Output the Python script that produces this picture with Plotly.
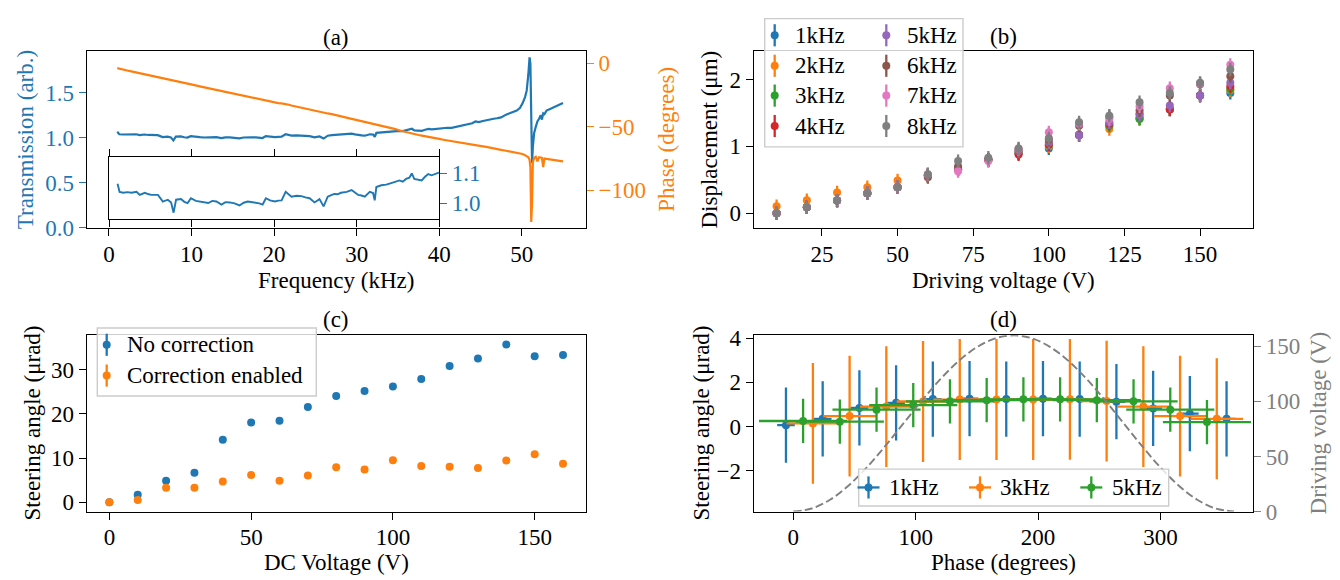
import plotly.graph_objects as go

W, H = 1340, 580
FONT = "Liberation Serif"
FS = 23

BLUE, ORANGE, GREEN, RED = "#1f77b4", "#ff7f0e", "#2ca02c", "#d62728"
PURPLE, BROWN, PINK, GREY = "#9467bd", "#8c564b", "#e377c2", "#7f7f7f"

# ---------------- (a) frequency response ----------------
freq_khz = [1.0, 1.25, 1.7, 2.2, 2.7, 3.3, 3.7, 4.3, 4.8, 5.1, 5.9, 6.5, 7.1, 7.5, 7.8, 8.1, 8.7, 9.1,
            9.5, 9.9, 10.5, 11.0, 11.5, 12.0, 12.5, 13.0, 13.6, 14.1, 14.6, 15.2, 15.8, 16.3, 16.8,
            17.3, 17.8, 18.2, 18.6, 19.0, 19.5, 20.1, 20.5, 20.9, 21.4, 21.8, 22.1, 22.7, 23.3, 23.8,
            24.3, 24.9, 25.5, 26.0, 26.5, 27.0, 27.3, 27.7, 28.1, 28.8, 29.4, 29.8, 30.2, 30.6, 31.0,
            31.6, 32.0, 32.2, 32.4, 33.0, 33.6, 34.2, 34.7, 35.2, 35.6, 36.0, 36.4, 36.7, 37.0, 37.5,
            37.9, 38.3, 38.7, 39.1, 39.5, 40.0, 40.5, 41.0, 41.5, 42.0, 42.5, 43.0, 43.5, 44.0, 44.4,
            44.8, 45.3, 45.7, 46.2, 46.6, 47.0, 47.5, 48.1, 48.6, 49.0, 49.4, 49.8, 50.1, 50.4, 50.6,
            50.8, 50.95, 51.05, 51.15, 51.25, 51.35, 51.5, 51.7, 51.9, 52.1, 52.3, 52.45, 52.6, 52.75,
            53.0, 53.5, 54.0, 54.5, 55.0]
transmission = [1.065, 1.038, 1.035, 1.037, 1.035, 1.038, 1.028, 1.035, 1.030, 1.028, 1.028, 1.006,
                1.012, 1.003, 0.969, 1.012, 1.014, 1.005, 1.001, 1.017, 1.008, 1.006, 1.002, 1.001,
                1.008, 1.006, 0.996, 1.004, 1.003, 1.000, 0.993, 1.002, 1.006, 1.004, 1.003, 1.000,
                0.996, 1.017, 1.010, 1.006, 1.009, 1.010, 1.038, 1.030, 1.022, 1.025, 1.024, 1.020,
                1.017, 1.003, 1.014, 0.990, 1.022, 1.028, 1.031, 1.030, 1.035, 1.038, 1.044, 1.036,
                1.028, 1.026, 1.022, 1.038, 1.034, 1.010, 1.054, 1.060, 1.062, 1.067, 1.072, 1.076,
                1.072, 1.081, 1.085, 1.099, 1.081, 1.078, 1.076, 1.088, 1.097, 1.093, 1.097, 1.102,
                1.105, 1.110, 1.108, 1.118, 1.130, 1.135, 1.150, 1.160, 1.180, 1.172, 1.185, 1.195,
                1.200, 1.210, 1.215, 1.225, 1.255, 1.270, 1.285, 1.300, 1.330, 1.380, 1.450, 1.520,
                1.700, 1.890, 1.820, 1.200, 0.720, 0.900, 1.050, 1.120, 1.180, 1.210, 1.250, 1.200,
                1.270, 1.260, 1.300, 1.320, 1.340, 1.360, 1.385]
phase_deg = [-3.8, -4.3, -4.9, -5.6, -6.3, -7.2, -7.8, -8.6, -9.3, -9.8, -10.9, -11.8, -12.6, -13.2,
             -13.6, -14.0, -14.9, -15.4, -16.0, -16.5, -17.4, -18.1, -18.8, -19.5, -20.2, -21.0,
             -21.8, -22.5, -23.2, -24.1, -24.9, -25.6, -26.3, -27.0, -27.8, -28.3, -28.9, -29.4,
             -30.1, -31.0, -31.4, -31.5, -31.8, -32.6, -33.2, -34.1, -35.0, -35.8, -36.6, -37.4,
             -38.1, -38.8, -39.5, -40.0, -40.4, -41.2, -42.0, -43.0, -43.8, -44.4, -45.0, -45.5,
             -46.1, -46.9, -47.4, -47.7, -48.0, -48.8, -49.6, -50.7, -51.8, -52.9, -53.6, -54.4,
             -55.0, -55.4, -55.8, -56.5, -57.0, -57.6, -58.2, -58.7, -59.2, -59.6, -60.2, -60.8,
             -61.3, -61.9, -62.5, -63.1, -63.6, -64.2, -64.6, -65.0, -65.4, -65.8, -66.3, -66.9,
             -67.6, -68.2, -68.9, -69.4, -69.8, -70.2, -70.8, -71.5, -72.4, -73.2, -74.0, -76.0,
             -82.0, -125.0, -110.0, -78.0, -74.5, -73.6, -77.2, -74.0, -74.3, -74.5, -81.8, -75.0,
             -75.3, -75.8, -76.3, -76.8, -77.3]
inset_max_khz = 40

# ---------------- (b) displacement vs driving voltage ----------------
drive_voltage = [10, 20, 30, 40, 50, 60, 70, 80, 90, 100, 110, 120, 130, 140, 150, 160]
disp_names = ["1kHz", "2kHz", "3kHz", "4kHz", "5kHz", "6kHz", "7kHz", "8kHz"]
disp_1k = [0.00, 0.09, 0.19, 0.30, 0.39, 0.57, 0.66, 0.80, 0.90, 0.97, 1.17, 1.31, 1.42, 1.55, 1.76, 1.80]
disp_2k = [0.105, 0.195, 0.31, 0.39, 0.49, 0.57, 0.66, 0.80, 0.90, 1.00, 1.17, 1.26, 1.42, 1.56, 1.76, 1.84]
disp_3k = [0.00, 0.09, 0.19, 0.30, 0.39, 0.56, 0.66, 0.80, 0.90, 1.02, 1.17, 1.31, 1.41, 1.56, 1.76, 1.86]
disp_4k = [0.00, 0.09, 0.19, 0.30, 0.39, 0.56, 0.66, 0.80, 0.88, 1.03, 1.17, 1.34, 1.49, 1.55, 1.76, 1.90]
disp_5k = [0.00, 0.09, 0.19, 0.30, 0.39, 0.57, 0.68, 0.80, 0.93, 1.06, 1.17, 1.36, 1.47, 1.61, 1.76, 1.95]
disp_6k = [0.00, 0.09, 0.19, 0.30, 0.39, 0.54, 0.70, 0.80, 0.95, 1.10, 1.31, 1.44, 1.54, 1.76, 1.93, 2.05]
disp_7k = [0.00, 0.09, 0.19, 0.30, 0.39, 0.58, 0.63, 0.78, 0.96, 1.21, 1.34, 1.41, 1.60, 1.87, 1.94, 2.22]
disp_8k = [0.00, 0.09, 0.19, 0.30, 0.39, 0.585, 0.78, 0.83, 0.97, 1.12, 1.36, 1.46, 1.66, 1.80, 1.95, 2.15]
disp_err = 0.10

# ---------------- (c) steering angle vs DC voltage ----------------
dc_voltage = [0, 10, 20, 30, 40, 50, 60, 70, 80, 90, 100, 110, 120, 130, 140, 150, 160]
steer_no_corr = [0.0, 1.67, 4.87, 6.68, 14.16, 18.08, 18.45, 21.57, 24.04, 25.2, 26.2, 27.9, 30.86,
                 32.53, 35.73, 33.04, 33.33]
steer_corr = [0.0, 0.5, 3.27, 3.27, 4.72, 6.17, 4.87, 6.03, 7.92, 7.41, 9.51, 8.21, 8.06, 7.77, 9.44,
              10.89, 8.71]
steer_err = 0.3
legend_c = ["No correction", "Correction enabled"]

# ---------------- (d) steering angle vs phase ----------------
phase_1k = [-6, 24, 54, 84, 114, 144, 174, 204, 234, 264, 294, 324, 354]
angle_1k = [0.06, 0.35, 0.84, 1.07, 1.24, 1.26, 1.24, 1.26, 1.24, 1.12, 0.82, 0.58, 0.35]
phase_3k = [16, 46, 76, 106, 136, 166, 196, 226, 256, 286, 316, 346]
angle_3k = [0.14, 0.47, 0.90, 1.13, 1.22, 1.22, 1.22, 1.23, 1.15, 0.90, 0.47, 0.35]
phase_5k = [8, 38, 68, 98, 128, 158, 188, 218, 248, 278, 308, 338]
angle_5k = [0.25, 0.22, 0.76, 0.97, 1.14, 1.19, 1.23, 1.23, 1.19, 1.14, 0.76, 0.20]
yerr_d = [1.70, 2.73, 1.00]
xerr_d = [7.2, 21.5, 36.0]
legend_d = ["1kHz", "3kHz", "5kHz"]
model_phase = [0, 15, 30, 45, 60, 75, 90, 105, 120, 135, 150, 165, 180, 195, 210, 225, 240, 255, 270,
               285, 300, 315, 330, 345, 360]
model_voltage = [0, 2.73, 10.72, 23.43, 40, 59.29, 80, 100.71, 120, 136.57, 149.28, 157.27, 160,
                 157.27, 149.28, 136.57, 120, 100.71, 80, 59.29, 40, 23.43, 10.72, 2.73, 0]


def px(X):
    return X / W


def py(Y):
    return 1 - Y / H


def axis(**kw):
    d = dict(showline=True, linecolor="black", linewidth=1.4, ticks="outside", ticklen=7,
             tickwidth=1.4, tickcolor="black", showgrid=False, zeroline=False,
             tickfont=dict(family=FONT, size=FS, color="black"))
    d.update(kw)
    return d


def xaxis(**kw):
    return axis(ticklabelstandoff=-2, **kw)


LW = 2.2
EW = 2.3
MS = 8

fig = go.Figure()

# (a)
fig.add_trace(go.Scatter(x=freq_khz, y=transmission, mode="lines", line=dict(color=BLUE, width=LW),
                         xaxis="x", yaxis="y"))
fig.add_trace(go.Scatter(x=freq_khz, y=phase_deg, mode="lines", line=dict(color=ORANGE, width=LW),
                         xaxis="x", yaxis="y2"))
f_in = [f for f in freq_khz if f <= inset_max_khz]
t_in = transmission[:len(f_in)]
fig.add_trace(go.Scatter(x=f_in, y=t_in, mode="lines", line=dict(color=BLUE, width=1.9),
                         xaxis="x5", yaxis="y7"))

# (b)
disp_series = [disp_1k, disp_2k, disp_3k, disp_4k, disp_5k, disp_6k, disp_7k, disp_8k]
disp_colors = [BLUE, ORANGE, GREEN, RED, PURPLE, BROWN, PINK, GREY]
for name, vals, col in zip(disp_names, disp_series, disp_colors):
    fig.add_trace(go.Scatter(x=drive_voltage, y=vals, mode="markers", name=name,
                             marker=dict(color=col, size=MS),
                             error_y=dict(type="constant", value=disp_err, thickness=EW, width=0, color=col),
                             xaxis="x2", yaxis="y3"))

# (c)
for name, vals, col in zip(legend_c, [steer_no_corr, steer_corr], [BLUE, ORANGE]):
    fig.add_trace(go.Scatter(x=dc_voltage, y=vals, mode="markers", name=name,
                             marker=dict(color=col, size=MS),
                             error_y=dict(type="constant", value=steer_err, thickness=EW, width=0, color=col),
                             xaxis="x3", yaxis="y4"))

# (d)
for name, xs, ys, col, ye, xe in zip(legend_d, [phase_1k, phase_3k, phase_5k],
                                     [angle_1k, angle_3k, angle_5k], [BLUE, ORANGE, GREEN], yerr_d, xerr_d):
    fig.add_trace(go.Scatter(x=xs, y=ys, mode="markers", name=name, marker=dict(color=col, size=MS),
                             error_y=dict(type="constant", value=ye, thickness=EW, width=0, color=col),
                             error_x=dict(type="constant", value=xe, thickness=EW, width=0, color=col),
                             xaxis="x4", yaxis="y5"))
fig.add_trace(go.Scatter(x=model_phase, y=model_voltage, mode="lines",
                         line=dict(color="#808080", width=1.9, dash="8px,3.5px", shape="spline"),
                         xaxis="x4", yaxis="y6"))

XA = [px(78.7), px(577.7)]
XB = [px(745.9), px(1245.0)]
YTOP = [py(219.3), py(35.8)]
YBOT = [py(514.0), py(330.9)]

fig.update_layout(
    width=W, height=H, margin=dict(l=0, r=0, t=0, b=0), showlegend=False,
    paper_bgcolor="white", plot_bgcolor="white",
    font=dict(family=FONT, size=FS, color="black"),
    xaxis=xaxis(domain=XA, anchor="y", range=[-2.7, 57.75], tickvals=[0, 10, 20, 30, 40, 50], mirror=True),
    yaxis=axis(domain=YTOP, anchor="x", range=[0, 1.955], tickvals=[0, 0.5, 1.0, 1.5], tickformat=".1f",
               tickcolor=BLUE, tickfont=dict(family=FONT, size=FS, color=BLUE)),
    yaxis2=axis(overlaying="y", anchor="x", side="right", range=[-129.8, 9.4], tickvals=[-100, -50, 0],
                tickcolor=ORANGE, tickfont=dict(family=FONT, size=FS, color=ORANGE)),
    xaxis5=axis(domain=[px(101.3), px(431.0)], anchor="y7", range=[0, 40], tickvals=[0, 10, 20, 30, 40],
                showticklabels=False, mirror="ticks"),
    yaxis7=axis(domain=[py(210.0), py(145.7)], anchor="x5", side="right", range=[0.948, 1.153],
                tickvals=[1.0, 1.1], tickformat=".1f", mirror=True, tickcolor=BLUE,
                tickfont=dict(family=FONT, size=FS, color=BLUE)),
    xaxis2=xaxis(domain=XB, anchor="y3", range=[2.5, 167.5], tickvals=[25, 50, 75, 100, 125, 150], mirror=True),
    yaxis3=axis(domain=YTOP, anchor="x2", range=[-0.22, 2.42], tickvals=[0, 1, 2], mirror=True),
    xaxis3=xaxis(domain=XA, anchor="y4", range=[-8, 168], tickvals=[0, 50, 100, 150], mirror=True),
    yaxis4=axis(domain=YBOT, anchor="x3", range=[-2.1, 37.8], tickvals=[0, 10, 20, 30], mirror=True),
    xaxis4=xaxis(domain=XB, anchor="y5", range=[-32.2, 375.6], tickvals=[0, 100, 200, 300], mirror=True),
    yaxis5=axis(domain=YBOT, anchor="x4", range=[-3.84, 4.12], tickvals=[-2, 0, 2, 4]),
    yaxis6=axis(overlaying="y5", anchor="x4", side="right", range=[0, 160], tickvals=[0, 50, 100, 150],
                tickcolor="#808080", tickfont=dict(family=FONT, size=FS, color="#808080")),
)

ann = []


def text(X, Y, s, color="black", angle=0, xanchor="center"):
    ann.append(dict(x=px(X), y=py(Y), xref="paper", yref="paper", text=s, showarrow=False,
                    xanchor=xanchor, yanchor="middle", textangle=angle,
                    font=dict(family=FONT, size=FS, color=color)))


# titles and axis labels
text(328.2, 21, "(a)")
text(328.2, 273.5, "Frequency (kHz)")
text(18.3, 127.7, "Transmission (arb.)", BLUE, -90)
text(659, 127.7, "Phase (degrees)", ORANGE, -90)
text(995.5, 20, "(b)")
text(995.5, 273.5, "Driving voltage (V)")
text(701.7, 127.7, "Displacement (μm)", angle=-90)
text(328.2, 314, "(c)")
text(328.2, 566.5, "DC Voltage (V)")
text(24, 422.5, "Steering angle (μrad)", angle=-90)
text(995.5, 314, "(d)")
text(995.5, 566.5, "Phase (degrees)")
text(693, 422.5, "Steering angle (μrad)", angle=-90)
text(1310, 422.5, "Driving voltage (V)", "#808080", -90)

shapes = []


def legend_box(x0, y0, x1, y1):
    shapes.append(dict(type="rect", xref="paper", yref="paper", x0=px(x0), x1=px(x1), y0=py(y1), y1=py(y0),
                       fillcolor="rgba(255,255,255,0.8)", line=dict(color="#cccccc", width=1.4), layer="above"))


def glyph(X, Y, color, cross=False):
    shapes.append(dict(type="line", xref="paper", yref="paper", x0=px(X), x1=px(X), y0=py(Y - 11.5),
                       y1=py(Y + 11.5), line=dict(color=color, width=EW), layer="above"))
    if cross:
        shapes.append(dict(type="line", xref="paper", yref="paper", x0=px(X - 11), x1=px(X + 11),
                           y0=py(Y), y1=py(Y), line=dict(color=color, width=EW), layer="above"))
    shapes.append(dict(type="circle", xref="paper", yref="paper", xsizemode="pixel", ysizemode="pixel",
                       xanchor=px(X), yanchor=py(Y), x0=-4, x1=4, y0=-4, y1=4,
                       fillcolor=color, line=dict(width=0), layer="above"))


# legend (b)
legend_box(756.7, 1.7, 955.0, 135.0)
rows_b = [19.0, 50.7, 81.7, 113.3]
for i, (name, col) in enumerate(zip(disp_names, disp_colors)):
    gx, tx = (766.7, 785.0) if i < 4 else (878.3, 896.7)
    glyph(gx, rows_b[i % 4], col)
    text(tx, rows_b[i % 4], name, xanchor="left")

# legend (c)
legend_box(89.3, 323.3, 308.3, 394.0)
for name, col, Y in zip(legend_c, [BLUE, ORANGE], [340.7, 372.7]):
    glyph(98.7, Y, col)
    text(117.3, Y, name, xanchor="left")

# legend (d)
legend_box(850.7, 470.0, 1160.7, 508.3)
for name, col, gx, tx in zip(legend_d, [BLUE, ORANGE, GREEN], [860.5, 972.0, 1083.3], [879.0, 990.0, 1101.7]):
    glyph(gx, 489.0, col, cross=True)
    text(tx, 489.0, name, xanchor="left")

fig.update_layout(annotations=ann, shapes=shapes)
fig.write_html("out.html")
